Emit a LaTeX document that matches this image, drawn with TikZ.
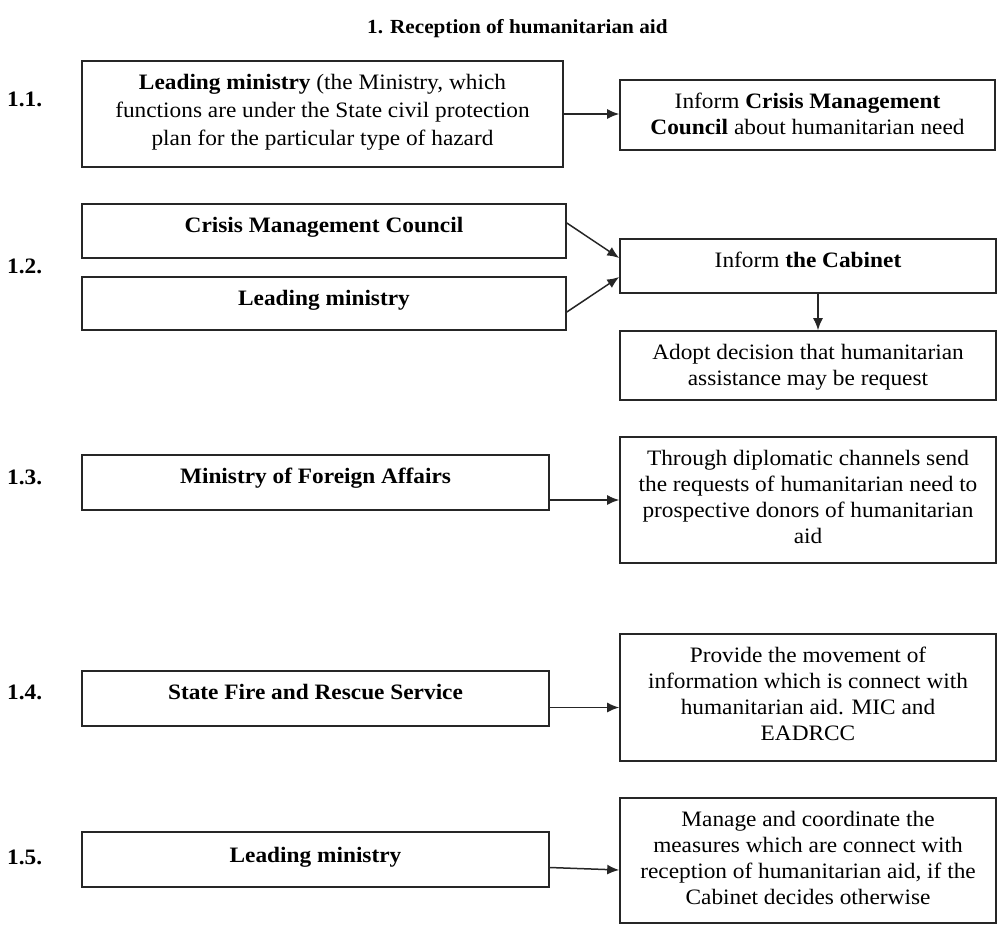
\documentclass[tikz,border=0pt]{standalone}
\usepackage{fontspec}
\setmainfont[FakeStretch=1.06]{Liberation Serif}
\usetikzlibrary{arrows.meta}

% text block of a fixed-size box: top aligned, centred lines
% #1 width, #2 height, #3 line pitch, #4 text
\newcommand\boxtxt[4]{\parbox[c][#2][t]{#1}{\centering\fontsize{22}{#3}\selectfont\rule{0pt}{28pt}#4\par}}

\begin{document}
\begin{tikzpicture}[x=1pt,y=-1pt,
  box/.style={draw=black!85, line width=1.6pt, inner sep=0pt, rectangle},
  arr/.style={draw=black!85, line width=1.5pt, -{Latex[length=12pt,width=10pt]}},
  num/.style={anchor=base west, inner sep=0pt, font=\bfseries\fontsize{22}{24}\selectfont},
  heading/.style={anchor=base west, inner sep=0pt, font=\bfseries\fontsize{20}{24}\selectfont}]
\useasboundingbox (0,0) rectangle (998,926);

% heading
\node[heading] (title) at (367,33) {1. Reception of humanitarian aid};

% step numbers
\node[num] (n11) at (7,106) {1.1.};
\node[num] (n12) at (7,273) {1.2.};
\node[num] (n13) at (7,484) {1.3.};
\node[num] (n14) at (7,699) {1.4.};
\node[num] (n15) at (7,864) {1.5.};

% 1.1
\node[box] (b11) at (322.5,114) {\boxtxt{481pt}{106pt}{28pt}{\textbf{Leading ministry} (the Ministry, which\\functions are under the State civil protection\\plan for the particular type of hazard}};
\node[box] (r11) at (807.5,115) {\boxtxt{375pt}{70pt}{26pt}{Inform \textbf{Crisis Management}\\\textbf{Council} about humanitarian need}};

% 1.2
\node[box] (b12a) at (324,231) {\boxtxt{484pt}{54pt}{26pt}{\textbf{Crisis Management Council}}};
\node[box] (b12b) at (324,303.5) {\boxtxt{484pt}{53pt}{26pt}{\textbf{Leading ministry}}};
\node[box] (r12) at (808,266) {\boxtxt{376pt}{54pt}{26pt}{Inform \textbf{the Cabinet}}};
\node[box] (r12d) at (808,365.5) {\boxtxt{376pt}{69pt}{26pt}{Adopt decision that humanitarian\\assistance may be request}};

% 1.3
\node[box] (b13) at (315.5,482.5) {\boxtxt{467pt}{55pt}{26pt}{\textbf{Ministry of Foreign Affairs}}};
\node[box] (r13) at (808,500) {\boxtxt{376pt}{126pt}{26pt}{Through diplomatic channels send\\the requests of humanitarian need to\\prospective donors of humanitarian\\aid}};

% 1.4
\node[box] (b14) at (315.5,698.5) {\boxtxt{467pt}{55pt}{26pt}{\textbf{State Fire and Rescue Service}}};
\node[box] (r14) at (808,697.5) {\boxtxt{376pt}{127pt}{26pt}{Provide the movement of\\information which is connect with\\humanitarian aid. MIC and\\EADRCC}};

% 1.5
\node[box] (b15) at (315.5,859.5) {\boxtxt{467pt}{55pt}{26pt}{\rule{0pt}{30pt}\textbf{Leading ministry}}};
\node[box] (r15) at (808,860.5) {\boxtxt{376pt}{125pt}{26pt}{Manage and coordinate the\\measures which are connect with\\reception of humanitarian aid, if the\\Cabinet decides otherwise}};

% connectors
\draw[arr] (b11.east) -- (b11.east -| r11.west);
\draw[arr] ([yshift=8pt]b12a.east) -- ([yshift=8pt]r12.west);
\draw[arr] ([yshift=-8.5pt]b12b.east) -- ([yshift=-11pt]r12.west);
\draw[arr] ([xshift=10pt]r12.south) -- ([xshift=10pt]r12d.north);
\draw[arr] (b13.east |- r13.west) -- (r13.west);
\draw[arr] ([yshift=-9pt]b14.east) -- ([yshift=-9pt]b14.east -| r14.west);
\draw[arr] ([yshift=-8pt]b15.east) -- ([yshift=-9.5pt]r15.west);
\end{tikzpicture}
\end{document}
